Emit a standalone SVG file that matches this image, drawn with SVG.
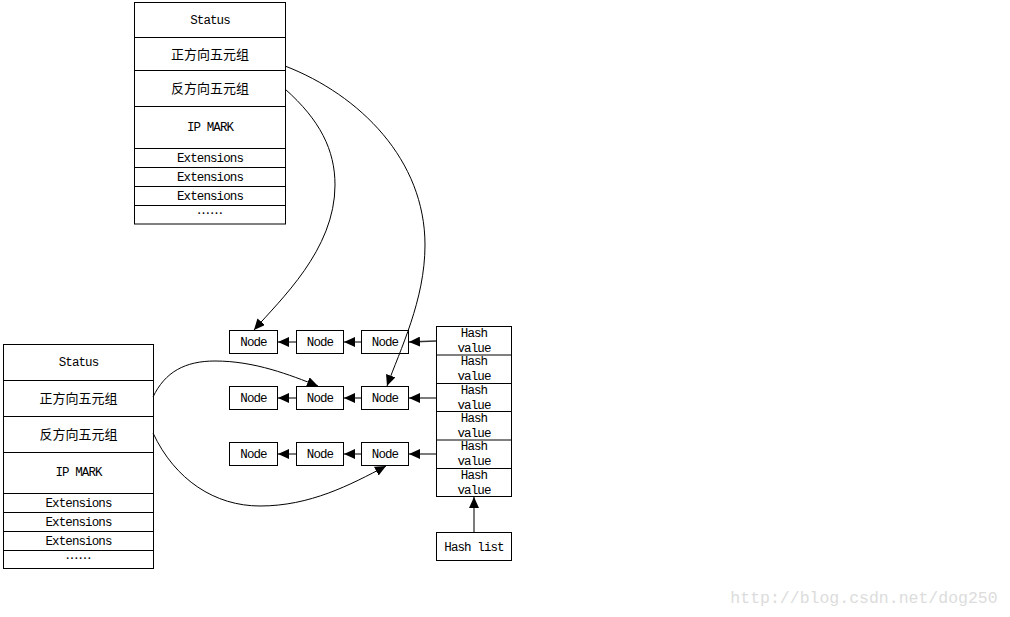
<svg xmlns="http://www.w3.org/2000/svg" width="1010" height="617" viewBox="0 0 1010 617">
<style>
.box{fill:#fff;stroke:#000;stroke-width:1}
.ln{fill:none;stroke:#000;stroke-width:1}
.t{font-family:"Liberation Mono","DejaVu Sans Mono",monospace;font-size:12.5px;letter-spacing:-0.9px;text-anchor:middle;fill:#000}
.c{font-family:"Noto Sans CJK SC","Noto Sans CJK JP",sans-serif;font-size:13px;text-anchor:middle;fill:#000}
.e{font-family:"Noto Sans CJK SC",sans-serif;font-size:13px;text-anchor:middle;fill:#000}
.sa{fill:none;stroke:#333;stroke-width:1.3}
.cv{fill:none;stroke:#000;stroke-width:1}
</style>
<defs>
<marker id="ah" markerUnits="userSpaceOnUse" markerWidth="12" markerHeight="10" refX="11" refY="5" orient="auto">
<path d="M0,0 L11,5 L0,10 Z" fill="#000"/>
</marker>
</defs>
<rect width="1010" height="617" fill="#fff"/>

<g id="table-top">
<rect class="box" x="134.5" y="2.5" width="151" height="221.5"/>
<line class="ln" x1="134.5" y1="37.5" x2="285.5" y2="37.5"/>
<line class="ln" x1="134.5" y1="70.5" x2="285.5" y2="70.5"/>
<line class="ln" x1="134.5" y1="106.5" x2="285.5" y2="106.5"/>
<line class="ln" x1="134.5" y1="148.5" x2="285.5" y2="148.5"/>
<line class="ln" x1="134.5" y1="167.5" x2="285.5" y2="167.5"/>
<line class="ln" x1="134.5" y1="186.5" x2="285.5" y2="186.5"/>
<line class="ln" x1="134.5" y1="205.5" x2="285.5" y2="205.5"/>
<text class="t" x="210" y="24">Status</text>
<text class="c" x="210" y="59">正方向五元组</text>
<text class="c" x="210" y="93">反方向五元组</text>
<text class="t" x="210" y="131">IP MARK</text>
<text class="t" x="210" y="161.5">Extensions</text>
<text class="t" x="210" y="180.5">Extensions</text>
<text class="t" x="210" y="199.5">Extensions</text>
<text class="e" x="210" y="218">……</text>
</g>

<g id="table-bottom">
<rect class="box" x="3.5" y="344.5" width="150" height="224"/>
<line class="ln" x1="3.5" y1="380.5" x2="153.5" y2="380.5"/>
<line class="ln" x1="3.5" y1="416.5" x2="153.5" y2="416.5"/>
<line class="ln" x1="3.5" y1="452.5" x2="153.5" y2="452.5"/>
<line class="ln" x1="3.5" y1="493.5" x2="153.5" y2="493.5"/>
<line class="ln" x1="3.5" y1="512.5" x2="153.5" y2="512.5"/>
<line class="ln" x1="3.5" y1="531.5" x2="153.5" y2="531.5"/>
<line class="ln" x1="3.5" y1="550.5" x2="153.5" y2="550.5"/>
<text class="t" x="78.5" y="366">Status</text>
<text class="c" x="78.5" y="403">正方向五元组</text>
<text class="c" x="78.5" y="439">反方向五元组</text>
<text class="t" x="78.5" y="476">IP MARK</text>
<text class="t" x="78.5" y="506.5">Extensions</text>
<text class="t" x="78.5" y="525.5">Extensions</text>
<text class="t" x="78.5" y="544.5">Extensions</text>
<text class="e" x="78.5" y="563">……</text>
</g>

<g id="node-r1c1"><rect class="box" x="229.5" y="330.5" width="48" height="23"/><text class="t" x="253.5" y="346">Node</text></g>
<g id="node-r1c2"><rect class="box" x="296.5" y="330.5" width="47" height="23"/><text class="t" x="320" y="346">Node</text></g>
<g id="node-r1c3"><rect class="box" x="361.5" y="330.5" width="47" height="23"/><text class="t" x="385" y="346">Node</text></g>
<g id="node-r2c1"><rect class="box" x="229.5" y="386.5" width="48" height="23"/><text class="t" x="253.5" y="402">Node</text></g>
<g id="node-r2c2"><rect class="box" x="296.5" y="386.5" width="47" height="23"/><text class="t" x="320" y="402">Node</text></g>
<g id="node-r2c3"><rect class="box" x="361.5" y="386.5" width="47" height="23"/><text class="t" x="385" y="402">Node</text></g>
<g id="node-r3c1"><rect class="box" x="229.5" y="442.5" width="48" height="23"/><text class="t" x="253.5" y="458">Node</text></g>
<g id="node-r3c2"><rect class="box" x="296.5" y="442.5" width="47" height="23"/><text class="t" x="320" y="458">Node</text></g>
<g id="node-r3c3"><rect class="box" x="361.5" y="442.5" width="47" height="23"/><text class="t" x="385" y="458">Node</text></g>

<g id="hash-table">
<rect class="box" x="436.5" y="326.5" width="75" height="170"/>
<line class="ln" x1="436.5" y1="355" x2="511.5" y2="355"/>
<line class="ln" x1="436.5" y1="383.5" x2="511.5" y2="383.5"/>
<line class="ln" x1="436.5" y1="411.5" x2="511.5" y2="411.5"/>
<line class="ln" x1="436.5" y1="440" x2="511.5" y2="440"/>
<line class="ln" x1="436.5" y1="468.5" x2="511.5" y2="468.5"/>
<text class="t" x="474" y="337">Hash</text><text class="t" x="474" y="352">value</text>
<text class="t" x="474" y="365.3">Hash</text><text class="t" x="474" y="380.3">value</text>
<text class="t" x="474" y="393.6">Hash</text><text class="t" x="474" y="408.6">value</text>
<text class="t" x="474" y="421.9">Hash</text><text class="t" x="474" y="436.9">value</text>
<text class="t" x="474" y="450.2">Hash</text><text class="t" x="474" y="465.2">value</text>
<text class="t" x="474" y="478.5">Hash</text><text class="t" x="474" y="493.5">value</text>
</g>

<g id="hash-list"><rect class="box" x="436.5" y="532.5" width="75" height="28"/><text class="t" x="474" y="550.5">Hash list</text></g>

<g id="connectors">
<line class="sa" x1="296" y1="342" x2="278" y2="342" marker-end="url(#ah)"/>
<line class="sa" x1="361" y1="342" x2="344" y2="342" marker-end="url(#ah)"/>
<line class="sa" x1="436" y1="341" x2="409" y2="342" marker-end="url(#ah)"/>
<line class="sa" x1="296" y1="398" x2="278" y2="398" marker-end="url(#ah)"/>
<line class="sa" x1="361" y1="398" x2="344" y2="398" marker-end="url(#ah)"/>
<line class="sa" x1="436" y1="398" x2="409" y2="398" marker-end="url(#ah)"/>
<line class="sa" x1="296" y1="454" x2="278" y2="454" marker-end="url(#ah)"/>
<line class="sa" x1="361" y1="454" x2="344" y2="454" marker-end="url(#ah)"/>
<line class="sa" x1="436" y1="454" x2="409" y2="454" marker-end="url(#ah)"/>
<line class="sa" x1="474" y1="532" x2="474" y2="497" marker-end="url(#ah)"/>
<path class="cv" d="M285,66 C360,95 425,160 425,245 C425,300 400,350 387,386" marker-end="url(#ah)"/>
<path class="cv" d="M285,89 C320,120 335,150 335,185 C335,250 280,300 254,330" marker-end="url(#ah)"/>
<path class="cv" d="M153,397 C165,372 185,361 215,361 C255,361 290,375 318,386" marker-end="url(#ah)"/>
<path class="cv" d="M153,433 C175,480 215,506 260,506 C310,506 350,485 386,466" marker-end="url(#ah)"/>
</g>

<text x="864" y="603" font-family="Liberation Mono,monospace" font-size="16.5" text-anchor="middle" fill="#dcdcdc">http://blog.csdn.net/dog250</text>
</svg>
